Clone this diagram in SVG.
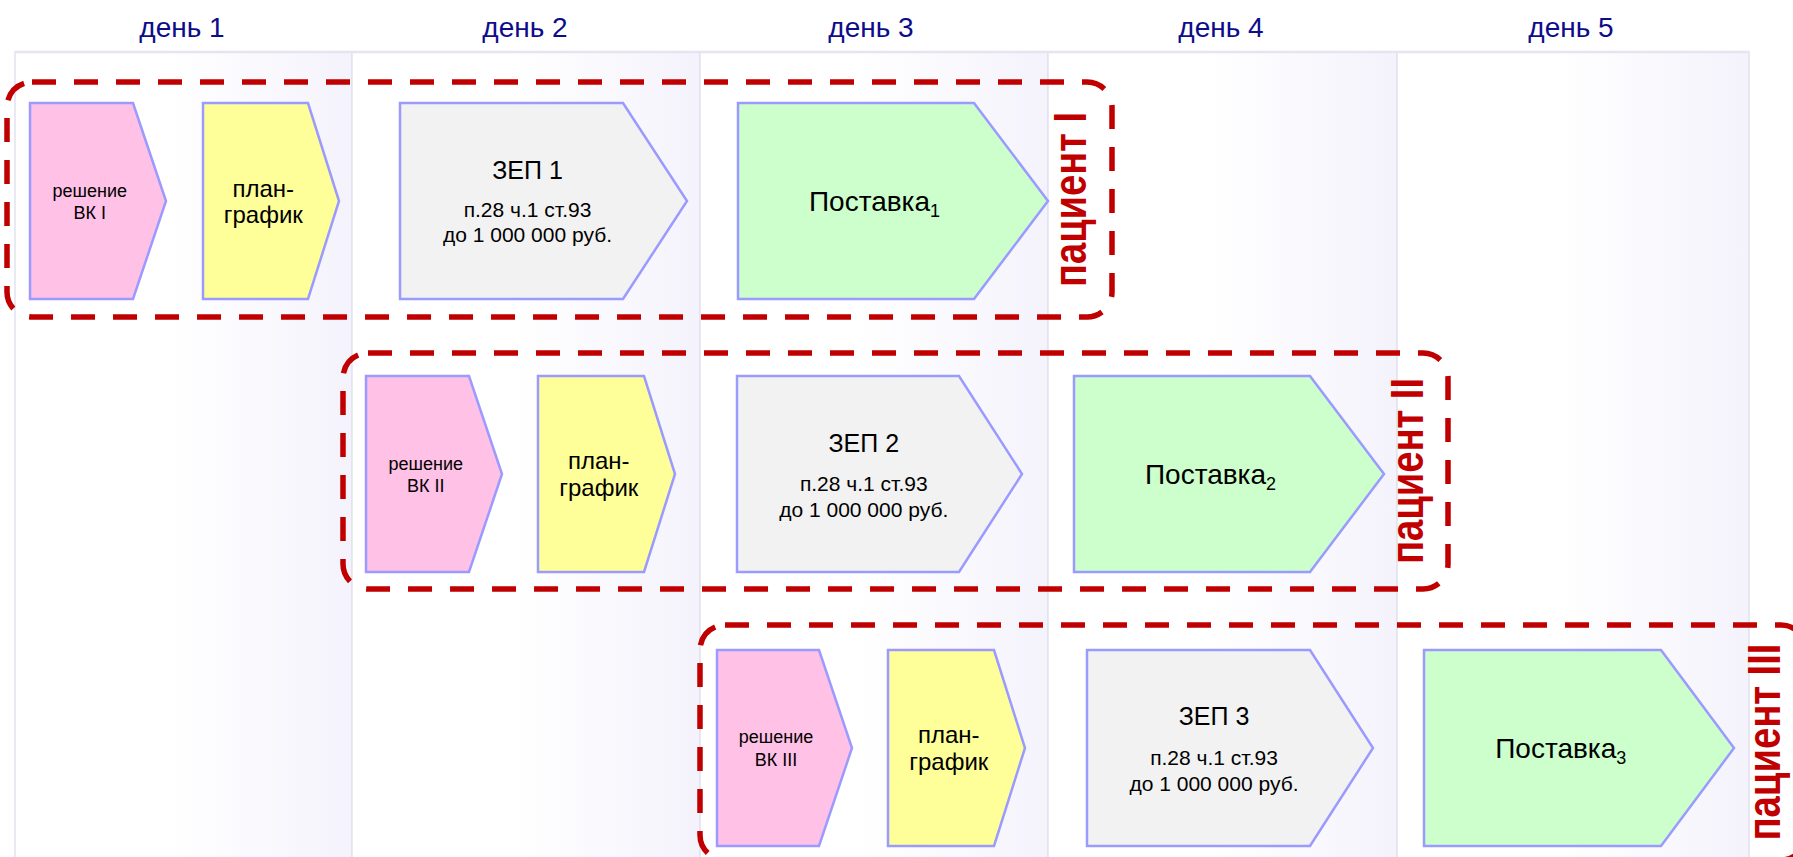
<svg xmlns="http://www.w3.org/2000/svg" width="1793" height="857" viewBox="0 0 1793 857">
<style>
text{font-family:"Liberation Sans",Arial,sans-serif;fill:#000}
.hdr{font-size:28px;fill:#0d0d8a;text-anchor:middle}
.col{fill:url(#colg);stroke:#e2e2f1;stroke-width:1.5}
.topln{stroke:#e4e4f3;stroke-width:2.5;fill:none}
.shape{stroke:#9a9aff;stroke-width:2.5;stroke-linejoin:miter}
.pink{fill:#ffc1e6}
.yellow{fill:#ffff99}
.gray{fill:#f2f2f2}
.green{fill:#ccffcc}
.t18{font-size:18px;text-anchor:middle}
.t24{font-size:24px;text-anchor:middle}
.t25{font-size:25px;text-anchor:middle}
.t21{font-size:21px;text-anchor:middle}
.t28{font-size:28px;text-anchor:middle}
.frame{fill:none;stroke:#c00000;stroke-width:5.5;stroke-dasharray:24 18}
.pat{font-size:46px;font-weight:bold;fill:#c00000;text-anchor:middle}
</style>
<defs>
<linearGradient id="colg" x1="0" y1="0" x2="1" y2="0">
<stop offset="0" stop-color="#ffffff"/>
<stop offset="0.45" stop-color="#ffffff"/>
<stop offset="1" stop-color="#f4f3fc"/>
</linearGradient>
</defs>
<rect width="1793" height="857" fill="#ffffff"/>
<g id="columns">
<rect class="col" x="15" y="52" width="337" height="820"/>
<rect class="col" x="352" y="52" width="348" height="820"/>
<rect class="col" x="700" y="52" width="348" height="820"/>
<rect class="col" x="1048" y="52" width="349" height="820"/>
<rect class="col" x="1397" y="52" width="352" height="820"/>
<line class="topln" x1="15" y1="52" x2="1749" y2="52"/>
</g>
<g id="headers">
<text class="hdr" x="182" y="37">день 1</text>
<text class="hdr" x="525" y="37">день 2</text>
<text class="hdr" x="871" y="37">день 3</text>
<text class="hdr" x="1221" y="37">день 4</text>
<text class="hdr" x="1571" y="37">день 5</text>
</g>
<g id="connectors"></g>
<g id="patient1">
<g id="vk1"><path class="shape pink" d="M30,103 H133 L166,201 L133,299 H30 Z"/>
<text class="t18" x="89.75" y="197">решение</text><text class="t18" x="89.75" y="219">ВК I</text></g>
<g id="plan1"><path class="shape yellow" d="M203,103 H308 L339,201 L308,299 H203 Z"/>
<text class="t24" x="263.25" y="197">план-</text><text class="t24" x="263.25" y="223">график</text></g>
<g id="zep1"><path class="shape gray" d="M400,103 H623 L687,201 L623,299 H400 Z"/>
<text class="t25" x="527.5" y="179">ЗЕП 1</text><text class="t21" x="527.5" y="217">п.28 ч.1 ст.93</text><text class="t21" x="527.5" y="242">до 1 000 000 руб.</text></g>
<g id="post1"><path class="shape green" d="M738,103 H974 L1048,201 L974,299 H738 Z"/>
<text class="t28" x="874.5" y="211">Поставка<tspan font-size="18" dy="6">1</tspan></text></g>
<g id="frame1"><rect class="frame" x="7" y="82" width="1105" height="235" rx="25" ry="25"/>
<text class="pat" transform="translate(1086,199.5) rotate(-90)" textLength="175" lengthAdjust="spacingAndGlyphs">пациент I</text></g>
</g>
<g id="patient2">
<g id="vk2"><path class="shape pink" d="M366,376 H469 L502,474 L469,572 H366 Z"/>
<text class="t18" x="425.75" y="470">решение</text><text class="t18" x="425.75" y="492">ВК II</text></g>
<g id="plan2"><path class="shape yellow" d="M538,376 H644 L675,474 L644,572 H538 Z"/>
<text class="t24" x="598.75" y="469">план-</text><text class="t24" x="598.75" y="496">график</text></g>
<g id="zep2"><path class="shape gray" d="M737,376 H959 L1022,474 L959,572 H737 Z"/>
<text class="t25" x="863.75" y="452">ЗЕП 2</text><text class="t21" x="863.75" y="491">п.28 ч.1 ст.93</text><text class="t21" x="863.75" y="517">до 1 000 000 руб.</text></g>
<g id="post2"><path class="shape green" d="M1074,376 H1310 L1384,474 L1310,572 H1074 Z"/>
<text class="t28" x="1210.5" y="484">Поставка<tspan font-size="18" dy="6">2</tspan></text></g>
<g id="frame2"><rect class="frame" x="343" y="353" width="1105" height="236" rx="25" ry="25"/>
<text class="pat" transform="translate(1423,471) rotate(-90)" textLength="186" lengthAdjust="spacingAndGlyphs">пациент II</text></g>
</g>
<g id="patient3">
<g id="vk3"><path class="shape pink" d="M717,650 H819 L852,748 L819,846 H717 Z"/>
<text class="t18" x="776" y="743">решение</text><text class="t18" x="776" y="766">ВК III</text></g>
<g id="plan3"><path class="shape yellow" d="M888,650 H994 L1025,748 L994,846 H888 Z"/>
<text class="t24" x="948.75" y="743">план-</text><text class="t24" x="948.75" y="770">график</text></g>
<g id="zep3"><path class="shape gray" d="M1087,650 H1310 L1373,748 L1310,846 H1087 Z"/>
<text class="t25" x="1214" y="725">ЗЕП 3</text><text class="t21" x="1214" y="765">п.28 ч.1 ст.93</text><text class="t21" x="1214" y="791">до 1 000 000 руб.</text></g>
<g id="post3"><path class="shape green" d="M1424,650 H1661 L1734,748 L1661,846 H1424 Z"/>
<text class="t28" x="1560.75" y="758">Поставка<tspan font-size="18" dy="6">3</tspan></text></g>
<g id="frame3"><rect class="frame" x="700" y="625" width="1106" height="235" rx="25" ry="25"/>
<text class="pat" transform="translate(1780,742) rotate(-90)" textLength="197" lengthAdjust="spacingAndGlyphs">пациент III</text></g>
</g>
</svg>
